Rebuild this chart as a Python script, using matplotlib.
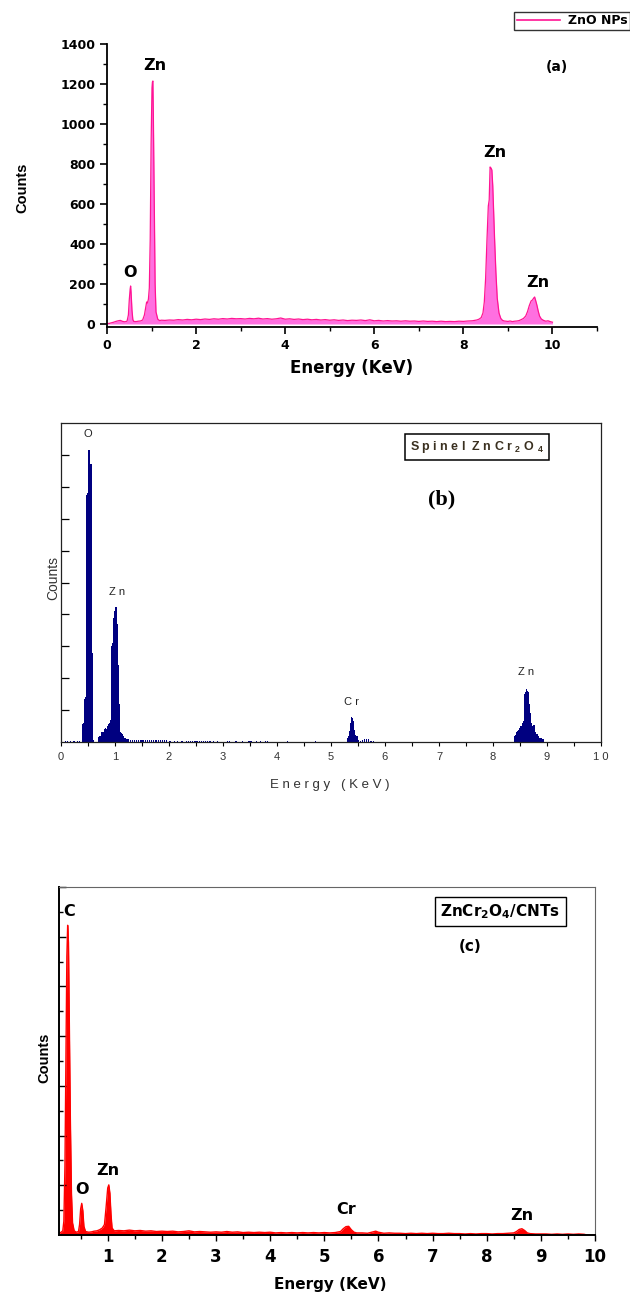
import matplotlib
matplotlib.use('Agg')
import matplotlib.pyplot as plt
from matplotlib.ticker import MultipleLocator, FixedLocator, NullFormatter
from matplotlib.lines import Line2D

plt.rcParams['font.family'] = ['Liberation Sans', 'DejaVu Sans']
plt.rcParams['mathtext.default'] = 'regular'
WIDE = ['DejaVu Sans']

# ---------------- panel (a): ZnO NPs ----------------
energy_a = [0.00, 0.05, 0.10, 0.15, 0.20, 0.25, 0.30, 0.35, 0.40, 0.45,
            0.48, 0.50, 0.52, 0.53, 0.54, 0.56, 0.58, 0.60, 0.65, 0.70,
            0.75, 0.80, 0.84, 0.87, 0.89, 0.91, 0.93, 0.95, 0.97, 0.99,
            1.01, 1.02, 1.03, 1.04, 1.06, 1.08, 1.10, 1.14, 1.18, 1.22,
            1.3, 1.4, 1.5, 1.6, 1.7, 1.8, 1.9, 2.0, 2.1, 2.2,
            2.3, 2.4, 2.5, 2.6, 2.7, 2.8, 2.9, 3.0, 3.1, 3.2,
            3.3, 3.4, 3.5, 3.6, 3.7, 3.8, 3.9, 4.0, 4.1, 4.2,
            4.3, 4.4, 4.5, 4.6, 4.7, 4.8, 4.9, 5.0, 5.1, 5.2,
            5.3, 5.4, 5.5, 5.6, 5.7, 5.8, 5.9, 6.0, 6.1, 6.2,
            6.3, 6.4, 6.5, 6.6, 6.7, 6.8, 6.9, 7.0, 7.1, 7.2,
            7.3, 7.4, 7.5, 7.6, 7.7, 7.8, 7.9, 8.0, 8.1, 8.2,
            8.3, 8.35, 8.40, 8.44, 8.47, 8.50, 8.53, 8.56, 8.58, 8.59,
            8.60, 8.62, 8.64, 8.66, 8.68, 8.70, 8.73, 8.76, 8.80, 8.84,
            8.88, 8.92, 8.96, 9.00, 9.05, 9.10, 9.15, 9.20, 9.25, 9.30,
            9.35, 9.40, 9.44, 9.48, 9.52, 9.55, 9.58, 9.60, 9.62, 9.65,
            9.68, 9.71, 9.75, 9.80, 9.85, 9.90, 9.95, 10.0]
counts_a = [2, 3, 6, 9, 13, 16, 18, 13, 11, 14,
            45, 120, 175, 190, 160, 70, 22, 13, 12, 14,
            15, 20, 45, 85, 110, 105, 125, 180, 420, 900,
            1180, 1210, 1215, 1050, 600, 200, 60, 24, 17, 19,
            18, 20, 19, 22, 20, 23, 21, 24, 22, 25,
            23, 26, 24, 27, 25, 28, 26, 27, 25, 28,
            26, 29, 25, 27, 24, 26, 30, 24, 26, 23,
            25, 22, 24, 21, 23, 20, 22, 19, 21, 18,
            20, 17, 19, 18, 20, 17, 21, 16, 18, 15,
            17, 15, 16, 14, 16, 14, 15, 13, 15, 13,
            14, 12, 14, 12, 13, 12, 14, 13, 15, 16,
            20, 24, 32, 55, 110, 230, 420, 590, 620, 700,
            785, 780, 770, 690, 560, 430, 260, 130, 55, 28,
            18, 15, 14, 13, 15, 12, 14, 15, 17, 22,
            28, 40, 62, 92, 115, 120, 130, 135, 120, 95,
            65, 40, 25, 18, 14, 16, 12, 9]
peaks_a = ['Zn', 'O', 'Zn', 'Zn']
peaks_a_x = [1.08, 0.52, 8.70, 9.68]
peaks_a_y = [1290, 258, 858, 208]

# ---------------- panel (b): spinel ZnCr2O4 (relative counts) ----------------
energy_b = [0.08, 0.12, 0.18, 0.24, 0.30, 0.34,
            0.40, 0.42, 0.44, 0.46, 0.48, 0.50, 0.52, 0.54, 0.56, 0.58, 0.60,
            0.70, 0.72, 0.74, 0.76, 0.78, 0.80, 0.82, 0.84, 0.86, 0.88,
            0.90, 0.92, 0.94, 0.96, 0.98, 1.00, 1.02, 1.04, 1.06, 1.08,
            1.10, 1.12, 1.14, 1.16, 1.18, 1.20, 1.22, 1.24,
            1.28, 1.32, 1.36, 1.40, 1.44, 1.48, 1.52, 1.56, 1.60, 1.64,
            1.68, 1.72, 1.76, 1.80, 1.84, 1.88, 1.92, 1.96,
            2.02, 2.10, 2.16, 2.24, 2.32, 2.36, 2.40, 2.44, 2.48, 2.52,
            2.56, 2.60, 2.64, 2.68, 2.72, 2.76, 2.82, 2.90, 3.08, 3.12,
            3.24, 3.36, 3.48, 3.52, 3.62, 3.70, 3.78, 3.82, 4.20, 4.72,
            5.30, 5.32, 5.34, 5.36, 5.38, 5.40, 5.42, 5.44, 5.46, 5.48,
            5.50, 5.54, 5.58, 5.62, 5.66, 5.70, 5.74, 5.78,
            8.40, 8.42, 8.44, 8.46, 8.48, 8.50, 8.52, 8.54, 8.56, 8.58,
            8.60, 8.62, 8.64, 8.66, 8.68, 8.70, 8.72, 8.74, 8.76, 8.78,
            8.80, 8.82, 8.84, 8.86, 8.88, 8.90, 8.92, 8.94]
counts_b = [0.004, 0.004, 0.004, 0.004, 0.004, 0.004,
            0.055, 0.060, 0.135, 0.140, 0.775, 0.780, 0.915, 0.870, 0.870, 0.280, 0.005,
            0.015, 0.020, 0.020, 0.030, 0.032, 0.040, 0.045, 0.042, 0.050, 0.055,
            0.060, 0.070, 0.300, 0.310, 0.390, 0.410, 0.424, 0.370, 0.240, 0.120,
            0.030, 0.028, 0.025, 0.020, 0.012, 0.012, 0.010, 0.008,
            0.005, 0.005, 0.005, 0.005, 0.005, 0.005, 0.005, 0.005, 0.005, 0.005,
            0.005, 0.005, 0.005, 0.005, 0.005, 0.005, 0.005, 0.005,
            0.004, 0.004, 0.004, 0.004, 0.004, 0.004, 0.004, 0.004, 0.004, 0.004,
            0.004, 0.004, 0.004, 0.004, 0.004, 0.004, 0.004, 0.004, 0.004, 0.004,
            0.004, 0.004, 0.004, 0.004, 0.004, 0.004, 0.004, 0.004, 0.004, 0.004,
            0.012, 0.020, 0.035, 0.060, 0.077, 0.075, 0.065, 0.038, 0.022, 0.020,
            0.006, 0.004, 0.005, 0.010, 0.010, 0.008, 0.004, 0.004,
            0.018, 0.022, 0.030, 0.035, 0.038, 0.045, 0.050, 0.060, 0.065, 0.150,
            0.158, 0.165, 0.160, 0.158, 0.120, 0.090, 0.060, 0.050, 0.052, 0.030,
            0.026, 0.025, 0.020, 0.014, 0.012, 0.012, 0.010, 0.010]
peaks_b = ['O', 'Z n', 'C r', 'Z n']
peaks_b_x = [0.50, 1.04, 5.38, 8.62]
peaks_b_y = [0.965, 0.47, 0.125, 0.218]
ticks_b = [0, 1, 2, 3, 4, 5, 6, 7, 8, 9, 10]
ticklabels_b = ['0', '1', '2', '3', '4', '5', '6', '7', '8', '9', '1 0']

# ---------------- panel (c): ZnCr2O4/CNTs (relative counts) ----------------
energy_c = [0.10, 0.14, 0.17, 0.19, 0.21, 0.23, 0.245, 0.26, 0.275, 0.29,
            0.31, 0.33, 0.35, 0.38, 0.42, 0.46, 0.48, 0.50, 0.52, 0.54,
            0.56, 0.59, 0.65, 0.70, 0.75, 0.80, 0.85, 0.90, 0.94, 0.97,
            1.00, 1.02, 1.04, 1.06, 1.08, 1.12, 1.2, 1.3, 1.4, 1.5,
            1.6, 1.7, 1.8, 1.9, 2.0, 2.1, 2.2, 2.3, 2.4, 2.5,
            2.6, 2.7, 2.8, 2.9, 3.0, 3.1, 3.2, 3.3, 3.4, 3.5,
            3.6, 3.7, 3.8, 3.9, 4.0, 4.1, 4.2, 4.3, 4.4, 4.5,
            4.6, 4.7, 4.8, 4.9, 5.0, 5.1, 5.2, 5.3, 5.35, 5.40,
            5.45, 5.50, 5.55, 5.6, 5.7, 5.8, 5.9, 5.95, 6.0, 6.1,
            6.2, 6.3, 6.4, 6.5, 6.6, 6.7, 6.8, 6.9, 7.0, 7.1,
            7.2, 7.3, 7.4, 7.5, 7.6, 7.7, 7.8, 7.9, 8.0, 8.1,
            8.2, 8.3, 8.4, 8.5, 8.55, 8.60, 8.65, 8.70, 8.75, 8.8,
            8.9, 9.0, 9.1, 9.2, 9.3, 9.4, 9.5, 9.6, 9.7, 9.8,
            9.85, 10.0]
counts_c = [0.005, 0.008, 0.012, 0.040, 0.200, 0.550, 0.800, 0.890, 0.840, 0.620,
            0.330, 0.120, 0.035, 0.012, 0.008, 0.010, 0.030, 0.075, 0.091, 0.070,
            0.025, 0.010, 0.008, 0.009, 0.011, 0.012, 0.015, 0.020, 0.030, 0.080,
            0.135, 0.144, 0.120, 0.060, 0.020, 0.012, 0.013, 0.012, 0.014, 0.012,
            0.013, 0.011, 0.012, 0.010, 0.011, 0.010, 0.011, 0.009, 0.010, 0.012,
            0.009, 0.010, 0.009, 0.008, 0.009, 0.008, 0.010, 0.008, 0.009, 0.007,
            0.008, 0.007, 0.008, 0.007, 0.008, 0.006, 0.007, 0.006, 0.007, 0.006,
            0.007, 0.006, 0.007, 0.006, 0.007, 0.006, 0.007, 0.010, 0.018, 0.024,
            0.025, 0.015, 0.008, 0.006, 0.006, 0.005, 0.009, 0.011, 0.008, 0.005,
            0.006, 0.005, 0.005, 0.004, 0.005, 0.004, 0.005, 0.004, 0.005, 0.004,
            0.004, 0.005, 0.004, 0.004, 0.003, 0.004, 0.003, 0.004, 0.004, 0.003,
            0.004, 0.004, 0.005, 0.006, 0.010, 0.016, 0.018, 0.013, 0.006, 0.004,
            0.003, 0.003, 0.003, 0.002, 0.003, 0.002, 0.003, 0.002, 0.003, 0.002,
            0.000, 0.000]
peaks_c = ['C', 'O', 'Zn', 'Cr', 'Zn']
peaks_c_x = [0.29, 0.52, 1.00, 5.41, 8.65]
peaks_c_y = [0.93, 0.13, 0.185, 0.074, 0.057]

W, H = 630, 1295
fig = plt.figure(figsize=(W / 100, H / 100), dpi=100)


def px_axes(left, top, right, bottom):
    return fig.add_axes([left / W, 1 - bottom / H, (right - left) / W, (bottom - top) / H])


def ftext(x, y, s, **kw):
    fig.text(x / W, 1 - y / H, s, **kw)


# ---------------- (a) ----------------
pink_line = '#FF1493'
pink_fill = '#FF6FE0'
ax = px_axes(107, 44, 597, 327)
ax.fill_between(energy_a, counts_a, 0, color=pink_fill, lw=0)
ax.plot(energy_a, counts_a, color=pink_line, lw=0.9)
ax.set_xlim(0, 11)
ax.set_ylim(-15, 1400)
for s in ['top', 'right']:
    ax.spines[s].set_visible(False)
for s in ['left', 'bottom']:
    ax.spines[s].set_linewidth(1.3)
ax.xaxis.set_major_locator(MultipleLocator(2))
ax.xaxis.set_minor_locator(MultipleLocator(1))
ax.yaxis.set_major_locator(MultipleLocator(200))
ax.yaxis.set_minor_locator(MultipleLocator(100))
ax.tick_params(which='major', direction='out', length=5, width=1.2, labelsize=9)
ax.tick_params(which='minor', direction='out', length=3, width=1.0)
for lab in ax.get_xticklabels() + ax.get_yticklabels():
    lab.set_fontweight('bold')
    lab.set_family(WIDE)
for t, x, y in zip(peaks_a, peaks_a_x, peaks_a_y):
    ax.text(x, y, t, ha='center', va='center', fontsize=11.5, fontweight='bold', family=WIDE)
ax.text(10.1, 1285, '(a)', ha='center', va='center', fontsize=10, fontweight='bold', family=WIDE)
leg = ax.legend([Line2D([0], [0], color=pink_line, lw=1.2)], ['ZnO NPs'],
                loc='upper right', bbox_to_anchor=(1.0, 1 - 12 / H),
                bbox_transform=fig.transFigure, frameon=True, fancybox=False,
                borderpad=0.2, handlelength=3.5, handletextpad=0.6, borderaxespad=0,
                prop={'weight': 'bold', 'size': 9, 'family': WIDE})
leg.get_frame().set_edgecolor('black')
leg.get_frame().set_linewidth(1.0)
ftext(22, 188, 'Counts', rotation=90, ha='center', va='center', fontsize=10.5, fontweight='bold')
ftext(352, 368, 'Energy (KeV)', ha='center', va='center', fontsize=12, fontweight='bold',
      family=WIDE)

# ---------------- (b) ----------------
navy = '#000080'
bx = px_axes(61, 423, 601, 742)
bx.bar(energy_b, counts_b, width=0.022, color=navy, lw=0, align='center')
bx.set_xlim(0, 10)
bx.set_ylim(0, 1)
for s in bx.spines.values():
    s.set_linewidth(0.9)
    s.set_color('#222222')
bx.xaxis.set_major_locator(FixedLocator(ticks_b))
bx.xaxis.set_minor_locator(MultipleLocator(0.5))
bx.set_xticklabels(ticklabels_b)
bx.yaxis.set_major_locator(FixedLocator([0.1, 0.2, 0.3, 0.4, 0.5, 0.6, 0.7, 0.8, 0.9]))
bx.yaxis.set_major_formatter(NullFormatter())
bx.tick_params(axis='x', which='both', direction='out', length=3, width=0.8,
               labelsize=8, labelcolor='#333333', pad=4)
bx.tick_params(axis='y', which='major', direction='in', length=6, width=0.9)
for t, x, y in zip(peaks_b, peaks_b_x, peaks_b_y):
    bx.text(x, y, t, ha='center', va='center', fontsize=8, color='#222222')
bx.text(7.04, 0.76, '(b)', ha='center', va='center', fontsize=16, fontweight='bold',
        family='Liberation Serif')
bx.text(7.71, 0.926, 'S p i n e l  Z n C r $_2$ O $_4$', ha='center', va='center',
        fontsize=9, fontweight='bold', color='#3a3020',
        bbox=dict(boxstyle='square,pad=0.4', fc='white', ec='black', lw=1.1))
ftext(53, 578, 'Counts', rotation=90, ha='center', va='center', fontsize=10, color='#333333')
ftext(330, 785, 'E n e r g y   ( K e V )', ha='center', va='center', fontsize=9.5, color='#333333')

# ---------------- (c) ----------------
red = '#FF0000'
cx = px_axes(59, 887, 595, 1235)
cx.fill_between(energy_c, counts_c, 0, color=red, lw=0)
cx.plot(energy_c, counts_c, color=red, lw=1.0)
cx.set_xlim(0.1, 10)
cx.set_ylim(0, 1)
cx.spines['left'].set_linewidth(1.4)
cx.spines['bottom'].set_linewidth(1.4)
for s in ['top', 'right']:
    cx.spines[s].set_linewidth(0.8)
    cx.spines[s].set_color('#666666')
cx.xaxis.set_major_locator(FixedLocator([1, 2, 3, 4, 5, 6, 7, 8, 9, 10]))
cx.xaxis.set_minor_locator(FixedLocator([0.5, 1.5, 2.5, 3.5, 4.5, 5.5, 6.5, 7.5, 8.5, 9.5]))
cx.yaxis.set_major_locator(FixedLocator([2 / 14, 4 / 14, 6 / 14, 8 / 14, 10 / 14, 12 / 14, 1.0]))
cx.yaxis.set_minor_locator(FixedLocator([1 / 14, 3 / 14, 5 / 14, 7 / 14, 9 / 14, 11 / 14, 13 / 14]))
cx.yaxis.set_major_formatter(NullFormatter())
cx.tick_params(axis='x', which='major', direction='out', length=4, width=1.0, labelsize=12, pad=5)
cx.tick_params(axis='x', which='minor', direction='out', length=3, width=1.0)
cx.tick_params(axis='y', which='major', direction='in', length=5, width=1.0)
cx.tick_params(axis='y', which='minor', direction='in', length=3, width=1.0)
for lab in cx.get_xticklabels():
    lab.set_fontweight('bold')
    lab.set_family(WIDE)
for t, x, y in zip(peaks_c, peaks_c_x, peaks_c_y):
    cx.text(x, y, t, ha='center', va='center', fontsize=11.5, fontweight='bold', family=WIDE)
cx.text(7.69, 0.83, '(c)', ha='center', va='center', fontsize=11, fontweight='bold', family=WIDE)
cx.text(8.25, 0.93, 'ZnCr$_2$O$_4$/CNTs', ha='center', va='center', fontsize=11,
        fontweight='bold', family=WIDE,
        bbox=dict(boxstyle='square,pad=0.35', fc='white', ec='black', lw=1.0))
ftext(44, 1058, 'Counts', rotation=90, ha='center', va='center', fontsize=10.5, fontweight='bold')
ftext(330, 1284, 'Energy (KeV)', ha='center', va='center', fontsize=11, fontweight='bold',
      family=WIDE)

fig.savefig('out.png', dpi=100)
